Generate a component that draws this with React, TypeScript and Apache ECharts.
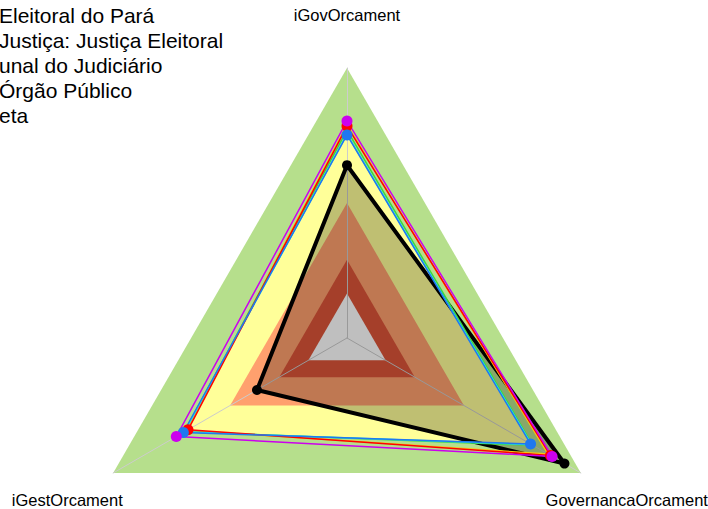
import React, { useEffect, useRef } from "react";
import * as echarts from "echarts";

// Indicators (counter-clockwise from top)
const indicatorNames = ["iGovOrcament", "iGestOrcament", "GovernancaOrcament"];
const indicatorMax = 1;

// Background bands (filled regions)
const bandGreen = [1, 1, 1];
const bandYellow = [0.755, 0.695, 0.79];
const bandOrange = [0.5, 0.5, 0.5];
const bandRed = [0.29, 0.29, 0.29];
const bandCenter = [0.165, 0.165, 0.165];

// Series
const legendNames = [
  "Eleitoral do Pará",
  "Justiça: Justiça Eleitoral",
  "unal do Judiciário",
  "Órgão Público",
  "eta",
];
const orgValues = [0.64, 0.385, 0.93];
const segmentoValues = [0.785, 0.68, 0.87];
const tribunalValues = [0.752, 0.7, 0.785];
const orgaoValues = [0.804, 0.73, 0.877];
const metaValues = [0.755, 0.695, 0.79];
const extraGreenValues = [0.77, 0.695, 0.795];
const extraYellowValues = [0.79, 0.685, 0.86];

const CX = 347;
const CY = 338;
const R = 270;
const NAME_R = 323;

export default function App() {
  const ref = useRef<HTMLDivElement>(null);
  useEffect(() => {
    if (!ref.current) return;
    const chart = echarts.init(ref.current, null, { renderer: "svg" });

    const band = (name: string, values: number[], color: string) => ({
      type: "radar",
      name,
      z: 1,
      silent: true,
      symbol: "none",
      lineStyle: { width: 0, opacity: 0 },
      areaStyle: { color, opacity: 1 },
      data: [{ value: values, name }],
    });

    const line = (
      name: string,
      values: number[],
      color: string,
      width: number,
      symbolSize: number
    ) => ({
      type: "radar",
      name,
      z: 3,
      symbol: symbolSize > 0 ? "circle" : "none",
      symbolSize,
      itemStyle: { color },
      lineStyle: { color, width },
      data: [{ value: values, name }],
    });

    const nameGraphics = indicatorNames.map((n, i) => {
      const ang = ((90 + i * 120) * Math.PI) / 180;
      return {
        type: "text",
        x: CX + NAME_R * Math.cos(ang),
        y: CY - NAME_R * Math.sin(ang),
        style: {
          text: n,
          fill: "#000",
          font: "16.5px 'Liberation Sans', Arial, sans-serif",
          align: "center",
          verticalAlign: "middle",
        },
      };
    });

    chart.setOption({
      animation: false,
      backgroundColor: "#ffffff",
      legend: {
        orient: "vertical",
        left: -16,
        top: 4.5,
        padding: 0,
        itemWidth: 10,
        itemHeight: 21,
        itemGap: 4,
        icon: "rect",
        itemStyle: { opacity: 0 },
        lineStyle: { opacity: 0 },
        selectedMode: false,
        data: legendNames,
        textStyle: {
          fontSize: 21,
          color: "#000",
          fontFamily: "'Liberation Sans', Arial, sans-serif",
        },
      },
      radar: {
        z: 2,
        center: [CX, CY],
        radius: R,
        shape: "polygon",
        startAngle: 90,
        splitNumber: 1,
        indicator: indicatorNames.map((n) => ({ name: n, min: 0, max: indicatorMax })),
        axisName: { show: false },
        axisLine: { show: true, lineStyle: { color: "#cccccc", width: 1 } },
        splitLine: { show: false },
        splitArea: { show: false },
        axisTick: { show: false },
        axisLabel: { show: false },
      },
      graphic: nameGraphics,
      series: [
        band("faixa1", bandGreen, "#b6df8c"),
        band("faixa2", bandYellow, "#ffff99"),
        band("faixa3", bandOrange, "#ffa06e"),
        band("faixa4", bandRed, "#dd5438"),
        band("faixa5", bandCenter, "#ffffff"),
        {
          type: "radar",
          name: legendNames[0],
          z: 3,
          symbol: "circle",
          symbolSize: 10,
          itemStyle: { color: "#000" },
          lineStyle: { color: "#000", width: 4 },
          areaStyle: { color: "rgba(0,0,0,0.25)", opacity: 1 },
          data: [{ value: orgValues, name: legendNames[0] }],
        },
        line("linha-amarela", extraYellowValues, "#f5c710", 1.5, 0),
        line("linha-verde", extraGreenValues, "#3cd83c", 1.5, 0),
        line(legendNames[4], metaValues, "#28e2e5", 1.5, 0),
        line(legendNames[1], segmentoValues, "#ff0000", 1.5, 11),
        line(legendNames[2], tribunalValues, "#1f78f0", 1.5, 11),
        line(legendNames[3], orgaoValues, "#cc00ee", 1.5, 11),
      ],
    });
    return () => chart.dispose();
  }, []);
  return (
    <div
      ref={ref}
      style={{ position: "absolute", left: 0, top: 0, width: 708, height: 509 }}
    />
  );
}
